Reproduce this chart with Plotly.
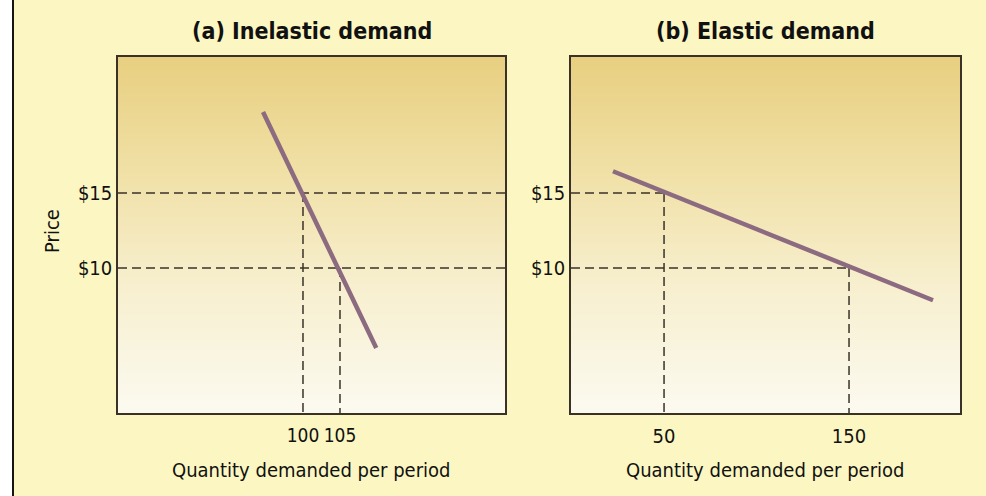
import plotly.graph_objects as go
import numpy as np

# ---- data ----
price_levels = [15, 10]
price_ticktext = ["$15", "$10"]
qty_inelastic = [100, 105]          # quantities at $15, $10 (panel a)
qty_elastic = [50, 150]             # quantities at $15, $10 (panel b)
inelastic_ticktext = ["100", "105"]
elastic_ticktext = ["50", "150"]
inelastic_curve_q = [94.6, 109.9]
inelastic_curve_p = [20.4, 4.67]
elastic_curve_q = [22.4, 195.4]
elastic_curve_p = [16.45, 7.85]
titles = ["(a) Inelastic demand", "(b) Elastic demand"]
x_title = "Quantity demanded per period"
y_title = "Price"

W, H = 986, 496
FONT = "DejaVu Sans Condensed, Liberation Sans Narrow, sans-serif"
BG = "#FCF7C2"
EDGE = "#3a3226"
CURVE = "#8C6A80"
DASH = "#3a3228"

xr_a = [75, 127.3]
xr_b = [-0.3, 210.0]
yr = [0.33, 24.07]

dom_a = [118 / W, 505 / W]
dom_b = [571 / W, 960 / W]
dom_y = [(H - 413) / H, (H - 57) / H]

fig = go.Figure()

grad = [[0.0, "#FCFAF0"], [0.35, "#F7EFCF"], [0.65, "#F1E2AA"], [1.0, "#E8CF80"]]
N = 160
yedges = np.linspace(yr[0], yr[1], N + 1)
zcol = [[i] for i in range(N)]

for xa, ya, xr in [("x", "y", xr_a), ("x2", "y2", xr_b)]:
    fig.add_trace(go.Heatmap(x=xr, y=yedges, z=zcol, colorscale=grad,
                             showscale=False, hoverinfo="skip",
                             xaxis=xa, yaxis=ya))

dash_line = dict(color=DASH, width=1.5, dash="9px,5px")

# panel a dashed guides: horizontals across the full width
for p, q in zip(price_levels, qty_inelastic):
    fig.add_trace(go.Scatter(x=xr_a, y=[p, p], mode="lines", line=dash_line,
                             xaxis="x", yaxis="y", hoverinfo="skip"))
    fig.add_trace(go.Scatter(x=[q, q], y=[p, yr[0]], mode="lines", line=dash_line,
                             xaxis="x", yaxis="y", hoverinfo="skip"))

# panel b dashed guides: horizontals up to the curve
for p, q in zip(price_levels, qty_elastic):
    fig.add_trace(go.Scatter(x=[xr_b[0], q], y=[p, p], mode="lines", line=dash_line,
                             xaxis="x2", yaxis="y2", hoverinfo="skip"))
    fig.add_trace(go.Scatter(x=[q, q], y=[p, yr[0]], mode="lines", line=dash_line,
                             xaxis="x2", yaxis="y2", hoverinfo="skip"))

fig.add_trace(go.Scatter(x=inelastic_curve_q, y=inelastic_curve_p, mode="lines",
                         line=dict(color=CURVE, width=4.5), xaxis="x", yaxis="y"))
fig.add_trace(go.Scatter(x=elastic_curve_q, y=elastic_curve_p, mode="lines",
                         line=dict(color=CURVE, width=4.5), xaxis="x2", yaxis="y2"))

axis_common = dict(showgrid=False, zeroline=False, showline=True, mirror=True,
                   linecolor=EDGE, linewidth=1.5, ticks="", tickangle=0)

def tf(size):
    return dict(family=FONT, size=size, color="#111")

fig.update_layout(
    width=W, height=H,
    margin=dict(l=0, r=0, t=0, b=0),
    paper_bgcolor=BG, plot_bgcolor=BG,
    showlegend=False,
    xaxis=dict(domain=dom_a, range=xr_a, tickvals=qty_inelastic,
               ticktext=inelastic_ticktext, ticklabelstandoff=4,
               tickfont=tf(19), **axis_common),
    yaxis=dict(domain=dom_y, range=yr, tickvals=price_levels,
               ticktext=price_ticktext, anchor="x", tickfont=tf(20), **axis_common),
    xaxis2=dict(domain=dom_b, range=xr_b, tickvals=qty_elastic,
                ticktext=elastic_ticktext, anchor="y2", ticklabelstandoff=4,
                tickfont=tf(20), **axis_common),
    yaxis2=dict(domain=dom_y, range=yr, tickvals=price_levels,
                ticktext=price_ticktext, anchor="x2", tickfont=tf(20), **axis_common),
)

ann = []
for t, d in zip(titles, [dom_a, dom_b]):
    ann.append(dict(text="<b>%s</b>" % t, x=(d[0] + d[1]) / 2, y=(H - 31) / H,
                    xref="paper", yref="paper", showarrow=False,
                    font=tf(23), xanchor="center", yanchor="middle"))
    ann.append(dict(text=x_title, x=(d[0] + d[1]) / 2, y=(H - 470) / H,
                    xref="paper", yref="paper", showarrow=False,
                    font=tf(20), xanchor="center", yanchor="middle"))
ann.append(dict(text=y_title, x=52 / W, y=(H - 231) / H, xref="paper", yref="paper",
                showarrow=False, textangle=-90, font=tf(20),
                xanchor="center", yanchor="middle"))
fig.update_layout(annotations=ann)

fig.update_layout(shapes=[
    dict(type="rect", xref="paper", yref="paper", x0=0, x1=12 / W, y0=0, y1=1,
         fillcolor="white", line=dict(width=0), layer="above"),
    dict(type="line", xref="paper", yref="paper", x0=13 / W, x1=13 / W, y0=0, y1=1,
         line=dict(color="#1a1410", width=2), layer="above"),
])

fig.write_html("out.html")
